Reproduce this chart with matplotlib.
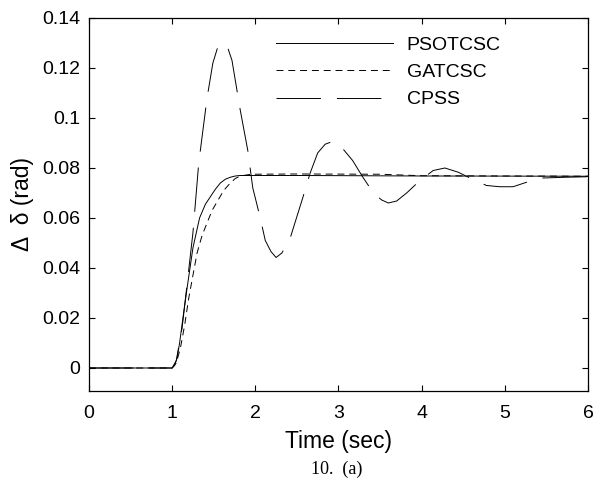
import matplotlib
matplotlib.use('Agg')
import matplotlib.pyplot as plt
import numpy as np

plt.rcParams['font.family'] = ['Liberation Sans', 'DejaVu Sans']
plt.rcParams['lines.scale_dashes'] = False

# Valores (tiempo en s, desviacion en rad)
t_pso = [0, 1.0, 1.03, 1.06, 1.09, 1.13, 1.18, 1.25, 1.33, 1.40, 1.45, 1.52, 1.58, 1.64, 1.70, 1.76, 1.82, 2.5, 4.0, 6.0]
d_pso = [0, 0, 0.001, 0.004, 0.010, 0.020, 0.032, 0.048, 0.060, 0.0655, 0.068, 0.0715, 0.074, 0.0755, 0.0763, 0.0768, 0.077, 0.077, 0.0768, 0.0767]

t_ga = [0, 1.0, 1.05, 1.10, 1.15, 1.20, 1.30, 1.36, 1.42, 1.48, 1.55, 1.62, 1.70, 1.76, 1.82, 1.95, 2.5, 3.5, 4.0, 6.0]
d_ga = [0, 0, 0.002, 0.008, 0.017, 0.028, 0.046, 0.053, 0.058, 0.063, 0.067, 0.071, 0.074, 0.0758, 0.0768, 0.0775, 0.0776, 0.0775, 0.0769, 0.0767]

t_cpss = [0, 1.0, 1.05, 1.12, 1.25, 1.32, 1.42, 1.49, 1.55, 1.61, 1.67, 1.72, 1.82, 1.91, 1.97, 2.06, 2.12,
          2.19, 2.25, 2.32, 2.42, 2.57, 2.66, 2.75, 2.84, 2.92, 3.02, 3.17, 3.29, 3.42, 3.52, 3.60, 3.70,
          3.82, 3.98, 4.14, 4.28, 4.44, 4.60, 4.78, 4.94, 5.10, 5.28, 5.46, 5.74, 6.0]
d_cpss = [0, 0, 0.003, 0.016, 0.054, 0.082, 0.108, 0.122, 0.1285, 0.130, 0.128, 0.123, 0.103, 0.087, 0.072, 0.060, 0.051,
          0.0465, 0.0442, 0.046, 0.052, 0.068, 0.078, 0.086, 0.0895, 0.0905, 0.089, 0.083, 0.0765, 0.070, 0.0672, 0.066, 0.0668,
          0.070, 0.075, 0.079, 0.080, 0.0783, 0.0757, 0.073, 0.0725, 0.0725, 0.0745, 0.076, 0.0763, 0.0765]

labels = ['PSOTCSC', 'GATCSC', 'CPSS']

fig = plt.figure(figsize=(5.93, 4.82), dpi=100)
ax = fig.add_axes([0.150, 0.1888, 0.8415, 0.7739])

ax.plot(t_pso, d_pso, color='black', lw=0.7, label=labels[0])
ax.plot(t_ga, d_ga, color='black', lw=0.7, linestyle=(0, (5, 3.5)), label=labels[1])
ax.plot(t_cpss, d_cpss, color='black', lw=0.7, linestyle=(0, (32, 11.5)), label=labels[2])

ax.set_xlim(0, 6)
ax.set_ylim(-0.0092, 0.14)
ax.set_xticks(np.arange(0, 7, 1))
ax.set_yticks([0, 0.02, 0.04, 0.06, 0.08, 0.1, 0.12, 0.14])
ax.set_yticklabels(['0', '0.02', '0.04', '0.06', '0.08', '0.1', '0.12', '0.14'])
ax.tick_params(direction='in', top=True, right=True, labelsize=14, length=4, width=0.8)
ax.tick_params(axis='x', pad=10)
ax.tick_params(axis='y', pad=6)
for s in ax.spines.values():
    s.set_linewidth(0.9)

ax.set_xlabel('Time (sec)', fontsize=16.5, labelpad=6)
ax.set_ylabel('\u0394  \u03b4 (rad)', fontsize=16.5, labelpad=6)

ax.legend(loc='upper left', bbox_to_anchor=(0.359, 0.972), frameon=False, fontsize=14,
          handlelength=6.0, handletextpad=0.72, labelspacing=0.5, borderaxespad=0)

fig.text(0.568, 0.027, '10.  (a)', family=['Liberation Serif', 'DejaVu Serif'], fontsize=13,
         ha='center', va='center')

fig.savefig('out.png', dpi=100)
